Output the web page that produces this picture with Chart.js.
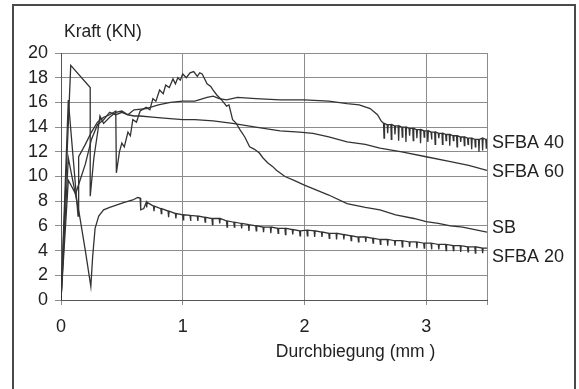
<!DOCTYPE html>
<html>
<head>
<meta charset="utf-8">
<script src="https://cdn.jsdelivr.net/npm/chart.js@4.4.0/dist/chart.umd.min.js"></script>
<style>
  html, body { margin: 0; padding: 0; background: #ffffff; }
  #wrap { width: 579px; height: 389px; position: relative; }
</style>
</head>
<body>
<div id="wrap"><canvas id="c" width="579" height="389"></canvas></div>
<script>
// ---- Data ----
const seriesNames = ["SFBA 40", "SFBA 60", "SB", "SFBA 20"];

// SFBA 40: smooth part, then a run of downward spikes (x, top, bottom)
const sfba40X = [0,0.08,0.24,0.24,0.27,0.30,0.32,0.35,0.40,0.45,0.50,0.55,0.60,0.70,0.80,0.90,1.00,1.10,1.20,1.25,1.30,1.36,1.45,1.60,1.80,2.00,2.20,2.35,2.45,2.54,2.60,2.63];
const sfba40Y = [0,19.0,17.2,8.4,11.5,13.5,14.9,14.3,14.8,15.2,15.3,15.0,15.4,15.5,15.8,16.0,16.1,16.1,16.4,16.5,16.3,16.2,16.4,16.3,16.2,16.2,16.1,15.9,15.8,15.5,15.0,14.5];
const sfba40SpikeX   = [2.65,2.68,2.71,2.74,2.77,2.80,2.83,2.86,2.89,2.92,2.95,2.98,3.01,3.04,3.07,3.10,3.13,3.16,3.19,3.22,3.25,3.28,3.31,3.34,3.37,3.40,3.43,3.46,3.49];
const sfba40SpikeTop = [14.3,14.2,14.2,14.1,14.1,14.0,14.0,13.9,13.9,13.8,13.8,13.7,13.7,13.6,13.6,13.5,13.5,13.4,13.4,13.3,13.3,13.2,13.2,13.1,13.1,13.0,13.0,13.1,13.0];
const sfba40SpikeBot = [13.1,13.5,13.0,13.4,12.9,13.2,12.8,13.3,12.9,13.1,12.7,13.2,12.8,13.0,12.6,13.1,12.6,12.9,12.5,12.9,12.4,12.8,12.5,12.6,12.2,12.4,12.0,12.1,12.3];

const sfba60X = [0,0.06,0.12,0.20,0.25,0.30,0.35,0.40,0.45,0.50,0.55,0.60,0.65,0.75,0.87,1.00,1.10,1.25,1.41,1.60,1.80,1.96,2.07,2.20,2.35,2.50,2.62,2.80,3.00,3.20,3.35,3.50];
const sfba60Y = [0,9.7,8.6,11.0,13.0,14.2,14.6,15.2,15.0,15.2,15.0,14.9,14.9,14.8,14.7,14.6,14.6,14.5,14.3,14.0,13.7,13.6,13.5,13.2,12.8,12.6,12.3,12.0,11.6,11.2,10.9,10.5];

const sbX = [0,0.06,0.14,0.145,0.20,0.25,0.30,0.35,0.40,0.45,0.455,0.48,0.50,0.52,0.55,0.57,0.59,0.62,0.65,0.70,0.73,0.755,0.78,0.81,0.84,0.86,0.89,0.92,0.94,0.96,0.98,1.00,1.03,1.06,1.09,1.12,1.14,1.16,1.20,1.23,1.25,1.28,1.32,1.36,1.38,1.41,1.44,1.47,1.51,1.55,1.59,1.63,1.66,1.70,1.74,1.77,1.84,1.91,2.00,2.10,2.20,2.35,2.50,2.62,2.75,2.90,3.00,3.10,3.20,3.30,3.40,3.50];
const sbY = [0,16.2,6.8,11.6,12.6,13.6,14.4,14.8,15.0,15.3,10.3,12.0,12.7,12.4,13.6,13.3,14.6,14.4,15.3,15.6,15.4,16.3,16.1,17.0,16.7,17.4,17.2,17.9,17.5,18.0,17.8,18.3,18.0,18.4,18.5,18.1,18.4,18.3,17.5,17.3,17.0,16.6,16.2,15.7,15.8,14.6,14.3,13.8,13.2,12.4,12.2,11.9,11.5,11.1,10.8,10.5,10.0,9.7,9.3,8.9,8.5,7.8,7.5,7.3,6.9,6.6,6.35,6.2,6.0,5.9,5.7,5.5];

// SFBA 20: start, then a baseline with small downward spikes (x, top, bottom)
const sfba20X = [0,0.06,0.10,0.15,0.20,0.245,0.26,0.28,0.31,0.35,0.40,0.46,0.52,0.59,0.63,0.65,0.655,0.68];
const sfba20Y = [0,11.5,9.5,7.0,4.0,1.1,3.5,5.8,6.8,7.3,7.5,7.7,7.9,8.1,8.3,8.25,7.3,7.4];
const sfba20SpikeX   = [0.70,0.76,0.82,0.88,0.94,1.00,1.06,1.12,1.18,1.24,1.30,1.36,1.42,1.48,1.54,1.60,1.66,1.72,1.78,1.84,1.90,1.96,2.02,2.08,2.14,2.20,2.26,2.32,2.38,2.44,2.50,2.56,2.62,2.68,2.74,2.80,2.86,2.92,2.98,3.04,3.10,3.16,3.22,3.28,3.34,3.40,3.46];
const sfba20SpikeTop = [7.9,7.6,7.4,7.2,7.0,6.9,6.85,6.8,6.7,6.6,6.6,6.4,6.3,6.2,6.1,6.0,5.9,5.9,5.8,5.8,5.7,5.6,5.65,5.6,5.5,5.4,5.4,5.3,5.2,5.1,5.1,5.0,4.9,4.9,4.8,4.8,4.7,4.7,4.6,4.6,4.5,4.5,4.4,4.4,4.3,4.3,4.2];
const sfba20SpikeBot = [7.5,7.2,7.0,6.7,6.6,6.5,6.4,6.4,6.3,6.1,6.2,5.9,5.9,5.8,5.6,5.6,5.5,5.4,5.4,5.3,5.3,5.2,5.2,5.1,5.1,5.0,4.9,4.9,4.8,4.7,4.7,4.6,4.5,4.4,4.4,4.3,4.3,4.2,4.2,4.1,4.1,4.0,4.0,3.9,3.9,3.8,3.8];
const sfba20End = { x: 3.50, y: 4.2 };
const sfba40End = { x: 3.50, y: 13.0 };

// y value (kN) at which each series name is written, right of the plot
const labelValues = [12.7, 10.4, 5.8, 3.5];

const xTicks = [0, 1, 2, 3];
const yTicks = [0, 2, 4, 6, 8, 10, 12, 14, 16, 18, 20];

const xTitle = "Durchbiegung (mm )";
const yTitle = "Kraft (KN)";

// ---- Build chart ----
function pts(xs, ys) { return xs.map((x, i) => ({ x: x, y: ys[i] })); }
function spikes(xs, tops, bots) {
  const out = [];
  xs.forEach((x, i) => {
    out.push({ x: x, y: tops[i] });
    out.push({ x: x + 0.004, y: bots[i] });
    out.push({ x: x + 0.008, y: tops[i] });
  });
  return out;
}
const dataSFBA40 = pts(sfba40X, sfba40Y).concat(spikes(sfba40SpikeX, sfba40SpikeTop, sfba40SpikeBot), [sfba40End]);
const dataSFBA60 = pts(sfba60X, sfba60Y);
const dataSB = pts(sbX, sbY);
const dataSFBA20 = pts(sfba20X, sfba20Y).concat(spikes(sfba20SpikeX, sfba20SpikeTop, sfba20SpikeBot), [sfba20End]);
const allData = [dataSFBA40, dataSFBA60, dataSB, dataSFBA20];

const lineColor = '#333333';
const datasets = seriesNames.map((n, i) => ({
  label: n,
  data: allData[i],
  showLine: true,
  borderColor: lineColor,
  borderWidth: 1.3,
  pointRadius: 0,
  tension: 0,
  fill: false
}));

const FONT = 'Arial, "Liberation Sans", sans-serif';

const decor = {
  id: 'decor',
  beforeDraw(chart) {
    const ctx = chart.ctx;
    ctx.save();
    ctx.fillStyle = '#ffffff';
    ctx.fillRect(0, 0, chart.width, chart.height);
    ctx.strokeStyle = '#4a4a4a';
    ctx.lineWidth = 2;
    ctx.strokeRect(13, 5, 562, 400);
    ctx.restore();
  },
  afterDraw(chart) {
    const ctx = chart.ctx;
    const xs = chart.scales.x, ys = chart.scales.y;
    const a = chart.chartArea;
    ctx.save();
    ctx.fillStyle = '#222';
    ctx.textBaseline = 'middle';
    ctx.textAlign = 'left';
    ctx.font = '18px ' + FONT;
    seriesNames.forEach((n, i) => {
      ctx.fillText(n, a.right + 5, ys.getPixelForValue(labelValues[i]));
    });
    ctx.font = '17.5px ' + FONT;
    ctx.fillText(yTitle, a.left + 3, a.top - 21);
    ctx.textAlign = 'center';
    ctx.fillText(xTitle, xs.getPixelForValue(2.42), a.bottom + 52);
    ctx.restore();
  }
};

new Chart(document.getElementById('c'), {
  type: 'scatter',
  data: { datasets },
  options: {
    responsive: false,
    animation: false,
    devicePixelRatio: 1,
    layout: { padding: { top: 53, right: 92, left: 0, bottom: 0 } },
    plugins: { legend: { display: false }, tooltip: { enabled: false } },
    scales: {
      x: {
        type: 'linear',
        min: 0, max: 3.5,
        afterFit(s) { s.height = 89; },
        afterBuildTicks(s) {
          s.ticks = xTicks.map(v => ({ value: v })).concat([{ value: 3.5 }]);
        },
        ticks: {
          color: '#222',
          font: { size: 18, family: FONT },
          padding: 11,
          maxRotation: 0,
          callback: v => (xTicks.includes(v) ? String(v) : '')
        },
        grid: { color: '#8c8c8c', lineWidth: 1, tickLength: 5 },
        border: { display: true, color: '#555', width: 1 }
      },
      y: {
        min: 0, max: 20,
        afterFit(s) { s.width = 61; },
        afterBuildTicks(s) { s.ticks = yTicks.map(v => ({ value: v })); },
        ticks: {
          color: '#222',
          font: { size: 18, family: FONT },
          padding: 7
        },
        grid: { color: '#8c8c8c', lineWidth: 1, tickLength: 6 },
        border: { display: true, color: '#555', width: 1 }
      }
    }
  },
  plugins: [decor]
});
</script>
</body>
</html>
